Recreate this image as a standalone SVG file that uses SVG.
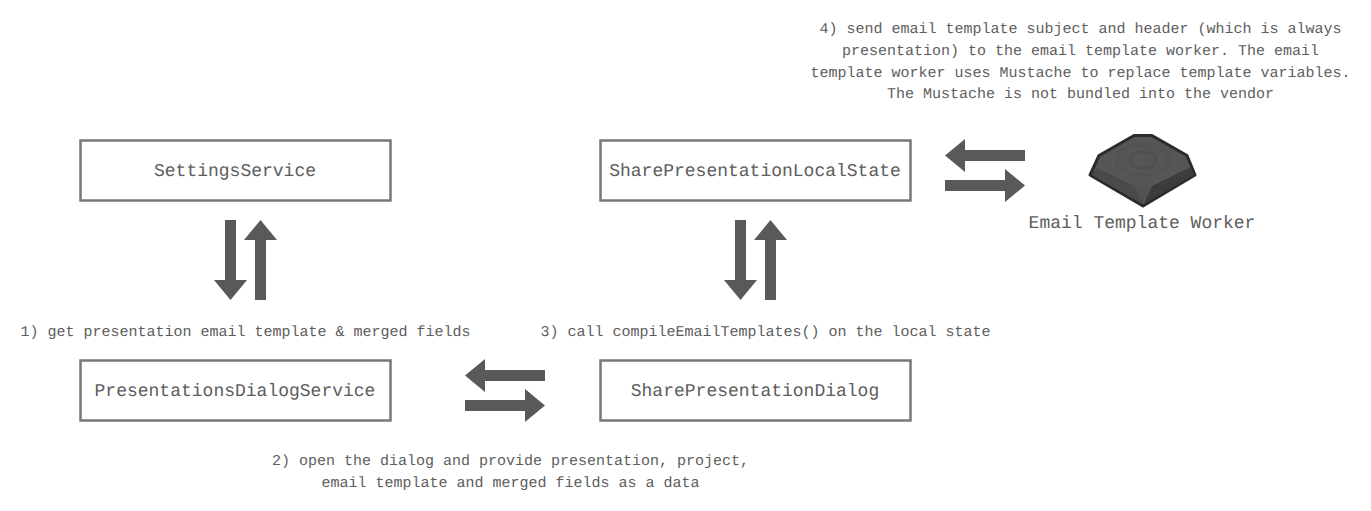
<svg xmlns="http://www.w3.org/2000/svg" width="1371" height="511" viewBox="0 0 1371 511">
<style>
text{font-family:"Liberation Mono",monospace;fill:#5c5c5c;text-anchor:middle;text-rendering:geometricPrecision}
.n{font-size:18px}
.l{font-size:15px}
.b{fill:#fff;stroke:#787878;stroke-width:2.5}
.a{fill:#595959}
.t{opacity:.99}
</style>
<defs>
<path id="pair-v" class="a" d="M225 220h11v60h11l-16.500 20l-16.500-20h11zM255 300v-60h-11l16.500-20l16.500 20h-11v60z"/>
<path id="pair-h" class="a" d="M945 155.500l20-16.500v11h60v11h-60v11zM945 180h60v-11l20 16.500l-20 16.500v-11h-60z"/>
</defs>
<rect width="1371" height="511" fill="#fff"/>
<g id="connectors">
<use href="#pair-v"/>
<use href="#pair-v" x="510"/>
<use href="#pair-h"/>
<use href="#pair-h" x="-480" y="220"/>
</g>
<g id="settings-service"><rect class="b" x="80.500" y="140.500" width="310" height="60"/><text class="n t" x="235" y="175.500">SettingsService</text></g>
<g id="share-presentation-local-state"><rect class="b" x="600.500" y="140.500" width="310" height="60"/><text class="n t" x="755" y="175.500">SharePresentationLocalState</text></g>
<g id="presentations-dialog-service"><rect class="b" x="80.500" y="360.500" width="310" height="60"/><text class="n t" x="235" y="395.500">PresentationsDialogService</text></g>
<g id="share-presentation-dialog"><rect class="b" x="600.500" y="360.500" width="310" height="60"/><text class="n t" x="755" y="395.500">SharePresentationDialog</text></g>
<g id="email-template-worker">
<path d="M1134 135.500h18l35 20l8 19.500l-52 31l-53-31l9-19.500z" fill="#565656" stroke="#2b2b2b" stroke-width="3" stroke-linejoin="round"/>
<path d="M1095 167l39 19l9.500 18.500l-51.500-29.500z" fill="#4a4a4a"/>
<path d="M1191 167l-39 19l-8.500 18.500l50.500-29.500z" fill="#3c3c3c"/>
<path d="M1134 186h18l-8.500 18.500z" fill="#525252"/>
<ellipse cx="1143" cy="160" rx="13" ry="8" fill="none" stroke="#505050" stroke-width="3"/>
<ellipse cx="1143" cy="160" rx="27" ry="15" fill="none" stroke="#535353" stroke-width="4"/>
<text class="n t" x="1142" y="227.500">Email Template Worker</text>
</g>
<g id="labels" class="t">
<text class="l" x="245.500" y="336">1) get presentation email template &amp; merged fields</text>
<text class="l" x="765.500" y="336">3) call compileEmailTemplates() on the local state</text>
<text class="l" x="510.500" y="465">2) open the dialog and provide presentation, project,</text>
<text class="l" x="510.500" y="487">email template and merged fields as a data</text>
<text class="l" x="1080.500" y="33">4) send email template subject and header (which is always</text>
<text class="l" x="1080.500" y="55">presentation) to the email template worker. The email</text>
<text class="l" x="1080.500" y="77">template worker uses Mustache to replace template variables.</text>
<text class="l" x="1080.500" y="98">The Mustache is not bundled into the vendor</text>
</g>
</svg>
